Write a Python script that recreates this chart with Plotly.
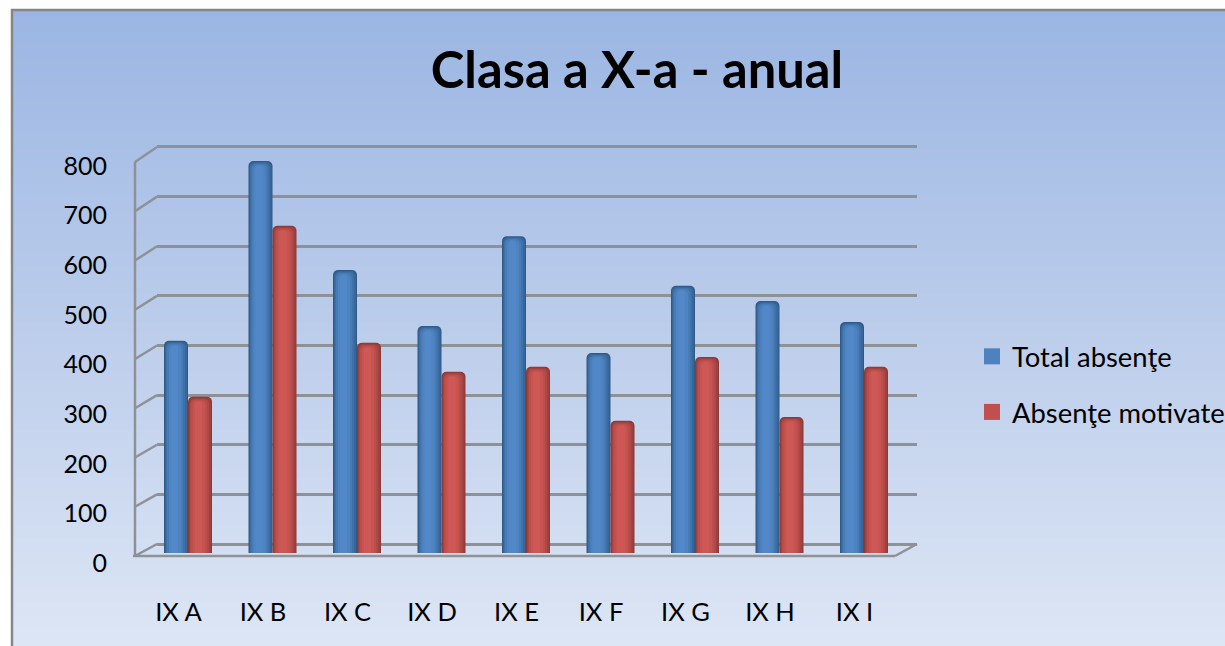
import plotly.graph_objects as go

categories = ["IX A", "IX B", "IX C", "IX D", "IX E", "IX F", "IX G", "IX H", "IX I"]
total_absente = [432, 798, 576, 462, 645, 407, 544, 513, 470]
absente_motivate = [318, 666, 428, 369, 379, 269, 399, 277, 379]
y_ticks = [0, 100, 200, 300, 400, 500, 600, 700, 800]
series_names = ["Total absenţe", "Absenţe motivate"]
title_text = "Clasa a X-a - anual"

W, H = 1225, 646
FONT = "Lato"
PITCH = 84.5


def px(x):
    return x / W


def py(y):
    return 1 - y / H


def xr(center, lo, hi):
    return [(lo - center) / PITCH, (hi - center) / PITCH]


# trim left px, trim right px, blue shade, red shade, top trim
layers = [
    (0, 0, "#2F5A88", "#8A3A38", 0),
    (1, 1, "#386698", "#9C413F", 1),
    (2, 3, "#4072AA", "#AE4946", 2),
    (3, 5, "#487CB6", "#BC4F4C", 3),
    (5, 7, "#4E84C2", "#C85451", 4),
    (7, 10, "#5288C8", "#CE5855", 5),
]
BAR_W = 24

fig = go.Figure()

# background gradient, first subplot so it stays beneath everything
fig.add_trace(go.Heatmap(
    x=[0, 1], y=[0, 1], z=[[1, 1], [0, 0]], zsmooth="best", showscale=False,
    colorscale=[[0, "#9BB6E3"], [0.5, "#BCCDEB"], [1, "#DDE6F5"]], hoverinfo="skip",
    xaxis="x", yaxis="y",
))

# empty traces so the grid and label axes get drawn
fig.add_trace(go.Scatter(x=[None], y=[None], showlegend=False, hoverinfo="skip", xaxis="x2", yaxis="y2"))

for vals, off, shade in ((total_absente, -BAR_W, 2), (absente_motivate, 0, 3)):
    for lay in layers:
        l, r, col, trim = lay[0], lay[1], lay[shade], lay[4]
        fig.add_trace(go.Bar(
            x=categories, y=[v - trim * 2 for v in vals],
            width=(BAR_W - l - r) / PITCH, offset=(off + l) / PITCH,
            marker=dict(color=col, line=dict(width=0), cornerradius=5),
            showlegend=False, hoverinfo="skip", xaxis="x3", yaxis="y3",
        ))

for name, col, grp in ((series_names[0], "#4F81BD", "a"), (series_names[1], "#C0504D", "b")):
    fig.add_trace(go.Scatter(
        x=[None], y=[None], mode="markers", name=name, legendgroup=grp,
        marker=dict(symbol="square", size=16, color=col), xaxis="x3", yaxis="y3",
    ))

fig.add_trace(go.Scatter(x=[None], y=[None], showlegend=False, hoverinfo="skip", xaxis="x2", yaxis="y4"))

hidden = dict(visible=False, fixedrange=True)

fig.update_layout(
    width=W, height=H, autosize=False,
    margin=dict(l=0, r=0, t=0, b=0, pad=0, autoexpand=False),
    paper_bgcolor="white", plot_bgcolor="rgba(0,0,0,0)",
    barmode="overlay",
    font=dict(family=FONT, color="black"),
    title=dict(text="<b>%s</b>" % title_text, x=px(637), xanchor="center", y=py(70), yanchor="middle",
               font=dict(size=50.7, family=FONT, color="black")),
    # background
    xaxis=dict(domain=[px(12), 1], range=[0, 1], **hidden),
    yaxis=dict(domain=[0, py(10)], range=[0, 1], **hidden),
    # back wall gridlines + category labels
    xaxis2=dict(domain=[px(157), px(917)], range=xr(178.5, 157, 917), type="linear",
                tickmode="array", tickvals=list(range(len(categories))), ticktext=categories,
                anchor="free", position=py(594.5), side="bottom", showgrid=False, showline=False, ticks="",
                zeroline=False, tickfont=dict(size=25.5, family=FONT, color="black"), fixedrange=True),
    yaxis2=dict(domain=[py(546), py(145)], range=[-4, 804], tickvals=y_ticks, showticklabels=False,
                anchor="x2", showgrid=True, gridcolor="#8E9296", gridwidth=2.5, zeroline=False,
                showline=False, ticks="", fixedrange=True),
    # bars
    xaxis3=dict(domain=[px(135), px(917)], range=[(135 - 188) / PITCH, (917 - 188) / PITCH],
                type="category", categoryorder="array", categoryarray=categories, anchor="y3", **hidden),
    yaxis3=dict(domain=[py(553), py(160)], range=[0, 800], anchor="x3", **hidden),
    # front value labels
    yaxis4=dict(domain=[py(563), py(166)], range=[0, 800], tickvals=y_ticks, anchor="free", position=px(107),
                side="left", showgrid=False, zeroline=False, showline=False, ticks="",
                tickfont=dict(size=25, family=FONT, color="black"), fixedrange=True),
    legend=dict(x=px(972), y=py(349 - 17), xanchor="left", yanchor="top", bgcolor="rgba(0,0,0,0)",
                font=dict(size=27.4, family=FONT, color="black"), tracegroupgap=17, itemclick=False,
                traceorder="grouped", itemwidth=30),
)

grey = "#8E9296"
shapes = [
    dict(type="rect", xref="paper", yref="paper", x0=px(12), x1=px(1240), y0=py(10), y1=py(660),
         line=dict(color="#868686", width=2.5), fillcolor="rgba(0,0,0,0)"),
    dict(type="line", xref="paper", yref="paper", x0=px(135), x1=px(135), y0=py(162), y1=py(556),
         line=dict(color=grey, width=2.5)),
    dict(type="line", xref="paper", yref="paper", x0=px(133), x1=px(895), y0=py(556), y1=py(556),
         line=dict(color=grey, width=2.5)),
    dict(type="line", xref="paper", yref="paper", x0=px(895), x1=px(917), y0=py(556), y1=py(544),
         line=dict(color=grey, width=2.5)),
]
for v in y_ticks:
    back = 544 - v * (544 - 147) / 800
    front = 556 - v * (556 - 162) / 800
    shapes.append(dict(type="line", xref="paper", yref="paper", x0=px(135), x1=px(157),
                       y0=py(front), y1=py(back), line=dict(color=grey, width=2.5)))
fig.update_layout(shapes=shapes)

fig.write_html("out.html", post_script="document.body.style.margin='0';document.body.style.overflow='hidden';",
               config=dict(displayModeBar=False))
